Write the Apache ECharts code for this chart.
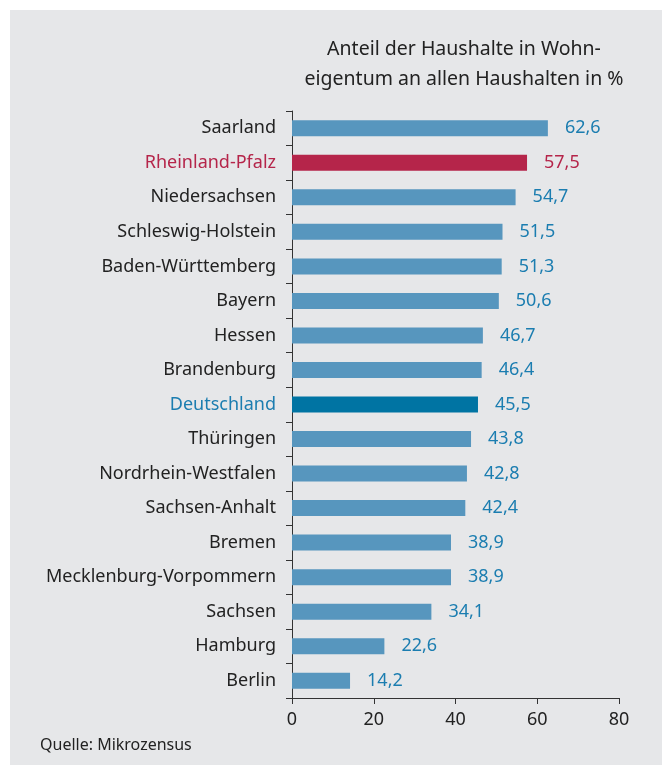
<!DOCTYPE html>
<html>
<head>
<meta charset="utf-8">
<script src="https://cdn.jsdelivr.net/npm/echarts@6/dist/echarts.min.js"></script>
<style>
  html, body { margin: 0; padding: 0; background: #fff; }
  #chart { width: 662px; height: 768px; }
</style>
</head>
<body>
<div id="chart"></div>
<script>
const laender = [
  "Saarland", "Rheinland-Pfalz", "Niedersachsen", "Schleswig-Holstein",
  "Baden-Württemberg", "Bayern", "Hessen", "Brandenburg", "Deutschland",
  "Thüringen", "Nordrhein-Westfalen", "Sachsen-Anhalt", "Bremen",
  "Mecklenburg-Vorpommern", "Sachsen", "Hamburg", "Berlin"
];
const anteil = [
  62.6, 57.5, 54.7, 51.5, 51.3, 50.6, 46.7, 46.4, 45.5,
  43.8, 42.8, 42.4, 38.9, 38.9, 34.1, 22.6, 14.2
];
const xTicks = [0, 20, 40, 60, 80];

const FONT = "Noto Sans";
const barBlue = "#5796be";
const red = "#b5254a";
const darkBlue = "#0074a3";
const labelBlue = "#1b7db0";

const highlight = {
  "Rheinland-Pfalz": { bar: red, text: red },
  "Deutschland": { bar: darkBlue, text: labelBlue }
};

const chart = echarts.init(document.getElementById("chart"));

chart.setOption({
  animation: false,
  graphic: [
    {
      type: "rect",
      z: -10,
      silent: true,
      shape: { x: 10, y: 10, width: 652, height: 755 },
      style: { fill: "#e6e7e9" }
    },
    {
      type: "text",
      left: 40,
      top: 737,
      style: { text: "Quelle: Mikrozensus", font: "16px " + FONT, fill: "#222" }
    },
    {
      type: "text",
      x: 464,
      y: 34,
      style: {
        text: "Anteil der Haushalte in Wohn-\neigentum an allen Haushalten in %",
        font: "19.5px " + FONT,
        fill: "#222",
        align: "center",
        lineHeight: 30
      }
    }
  ],
  grid: { left: 292, right: 43, top: 111, bottom: 70, containLabel: false },
  xAxis: {
    type: "value",
    min: 0,
    max: 80,
    interval: 20,
    splitLine: { show: false },
    axisLine: { show: true, lineStyle: { color: "#333", width: 1 } },
    axisTick: { show: true, length: 6, lineStyle: { color: "#333" } },
    axisLabel: {
      color: "#222",
      fontFamily: FONT,
      fontSize: 18,
      margin: 13,
      formatter: (v) => (xTicks.includes(v) ? String(v) : "")
    }
  },
  yAxis: {
    type: "category",
    inverse: true,
    data: laender,
    axisLine: { show: true, lineStyle: { color: "#333", width: 1 } },
    axisTick: { show: true, length: 6, lineStyle: { color: "#333" } },
    axisLabel: {
      fontFamily: FONT,
      fontSize: 18,
      margin: 16,
      color: (v) => (highlight[v] ? highlight[v].text : "#222")
    }
  },
  series: [
    {
      type: "bar",
      barWidth: 16,
      data: anteil.map((v, i) => ({
        value: v,
        itemStyle: { color: highlight[laender[i]] ? highlight[laender[i]].bar : barBlue },
        label: { color: highlight[laender[i]] ? highlight[laender[i]].text : labelBlue }
      })),
      label: {
        show: true,
        position: "right",
        distance: 17,
        fontFamily: FONT,
        fontSize: 18,
        formatter: (p) => p.value.toFixed(1).replace(".", ",")
      }
    }
  ]
});
</script>
</body>
</html>
